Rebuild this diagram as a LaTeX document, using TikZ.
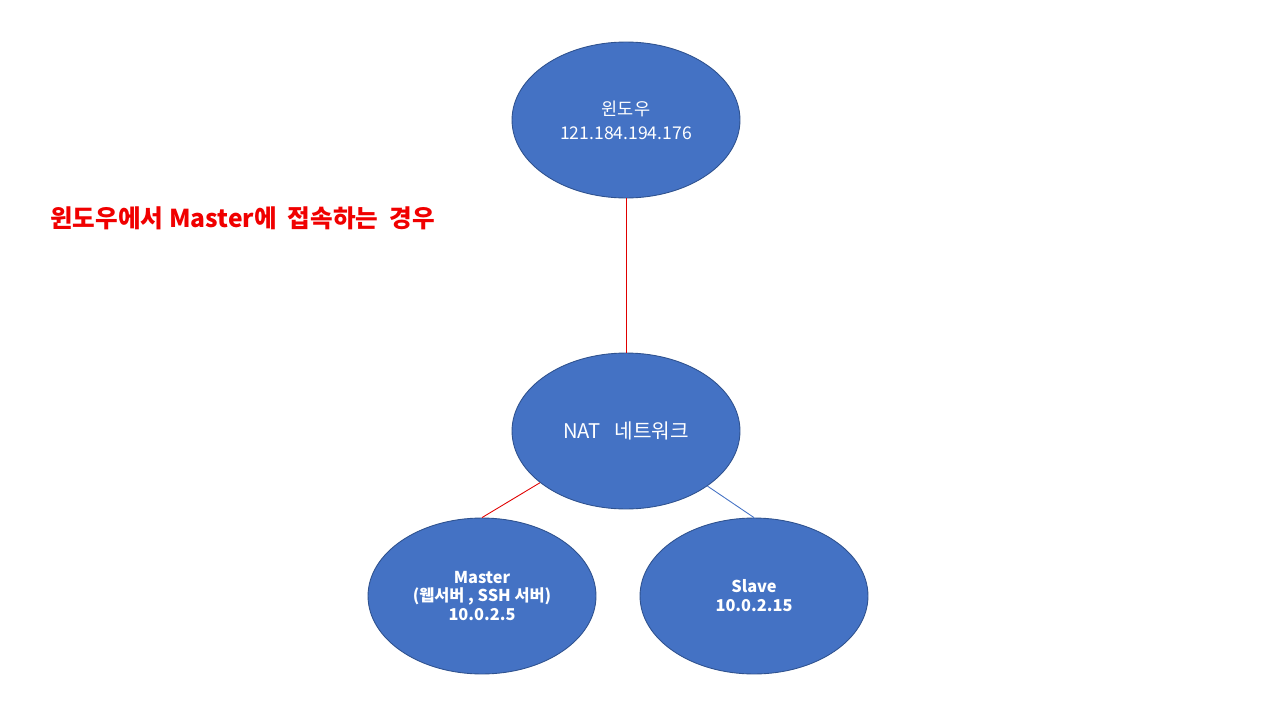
\documentclass[tikz,border=0pt]{standalone}
\usepackage{fontspec}
\setmainfont{Noto Sans CJK KR}
\usetikzlibrary{shapes.geometric}
\definecolor{hostblue}{HTML}{4472C4}
\definecolor{hostedge}{HTML}{2F528F}
\definecolor{linkred}{HTML}{E00000}
\definecolor{titlered}{HTML}{F00000}
\begin{document}
\begin{tikzpicture}[x=0.02cm, y=-0.02cm,
    host/.style={ellipse, draw=hostedge, line width=0.5pt, fill=hostblue,
      minimum width=4.56cm, minimum height=3.12cm, inner sep=0,
      text=white, align=center},
    link/.style={line width=0.5pt}]
  \useasboundingbox (0, 0) rectangle (1280, 720);

  \node[host, font=\fontsize{10}{13.6}\selectfont] (win) at (626, 120) {윈도우\\121.184.194.176};
  \node[host, font=\fontsize{11.5}{13}\selectfont] (nat) at (626, 431) {NAT\ \ \ 네트워크};
  \node[host, font=\fontsize{9.3}{10.8}\selectfont\bfseries] (master) at (482, 596) {Master\\(웹서버 , SSH 서버)\\10.0.2.5};
  \node[host, font=\fontsize{9.3}{10.8}\selectfont\bfseries] (slave) at (754, 596) {Slave\\10.0.2.15};

  % links
  \draw[link, draw=linkred] (win) -- (nat);
  \draw[link, draw=linkred] (nat) -- (master.north);
  \draw[link, draw=hostblue] (nat) -- (slave.north);

  \node[anchor=west, inner sep=0, text=titlered, font=\fontsize{14}{16}\selectfont\bfseries] (title) at (50, 218) {윈도우에서 Master에\ \ 접속하는\ \ 경우};
\end{tikzpicture}
\end{document}
